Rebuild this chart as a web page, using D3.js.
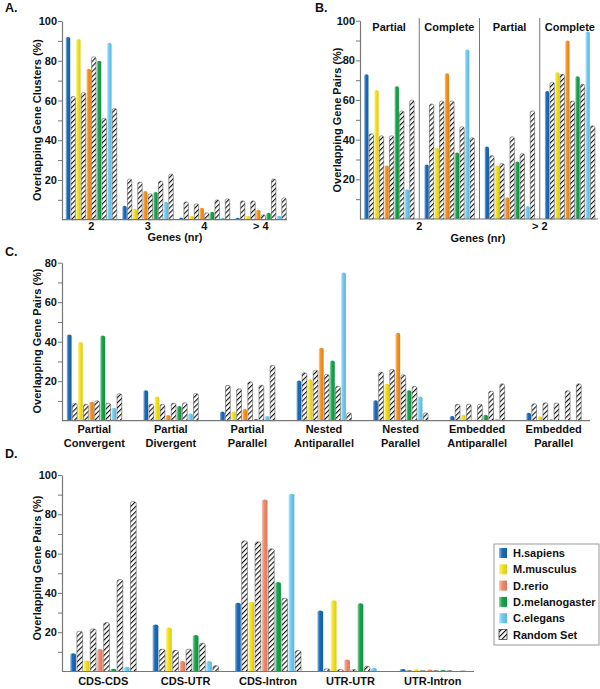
<!DOCTYPE html>
<html><head><meta charset="utf-8">
<script src="https://cdn.jsdelivr.net/npm/d3@7"></script>
<style>
body{margin:0;background:#fff}
text{font-family:"Liberation Sans",Arial,sans-serif;font-weight:bold;fill:#111}
</style>
</head><body><svg id="c" width="600" height="689"></svg>
<script>
// ---------- DATA ----------
const species = ["H.sapiens","M.musculus","D.rerio","D.melanogaster","C.elegans"];
const randomName = "Random Set";
const speciesColors = ["#1a6bb9","#f6e31c","#f7921e","#17a34a","#6ccdf3"];
const dSpeciesColors = ["#1a6bb9","#f6e31c","#f08a6c","#17a34a","#6ccdf3"];

// Panel A
const aCategories = ["2","3","4","> 4"];
const aObserved = [[92,91,76,80,89],[7,5.5,14.5,14,9],[1,2,6,4,1],[1,2,5,3.5,2]];
const aRandom   = [[62,64,82,51,56],[20.5,19,13,19.5,23],[9,8,3.5,10,10.5],[9.5,9.5,2.5,20.5,11]];

// Panel B
const bGeneGroups = ["2","> 2"];
const bCategories = ["Partial","Complete","Partial","Complete"];
const bObserved = [[73,65,27,67,15],[27.5,36,73.5,33.5,85.5],[36.5,27,11,29,6.5],[64.5,74,90,72,94.5]];
const bRandom   = [[43,42,42,54.5,60],[58,59.5,59.5,46.5,41],[32,28,41.5,33,54.5],[69,73,59.5,68,47]];

// Panel C
const cCategories = [["Partial","Convergent"],["Partial","Divergent"],["Partial","Parallel"],["Nested","Antiparallel"],["Nested","Parallel"],["Embedded","Antiparallel"],["Embedded","Parallel"]];
const cObserved = [[43.7,39.8,9.6,43.2,6.6],[15.4,12.2,2.9,7.4,3.7],[4.6,4.6,5.9,0.8,2.4],[20.4,21,37,30.5,75],[10.3,18.7,44.5,15.4,12.3],[2.4,3,0.3,3,0.8],[4,2.2,0.7,0.5,0.2]];
const cRandom   = [[8.8,8.3,10.1,8.9,13.7],[8.4,8.3,8.9,9.1,13.8],[17.9,16.2,19.7,18,28],[24.3,25.6,23.5,17.5,4],[24.6,26,23.3,17.4,4],[8.3,8.4,8.4,15,18.7],[8.6,9.1,9,15.2,18.7]];

// Panel D
const dCategories = ["CDS-CDS","CDS-UTR","CDS-Intron","UTR-UTR","UTR-Intron"];
const dObserved = [[9.3,5.6,11.5,1.4,2.4],[23.9,22.4,5.3,18.6,5.3],[35,35.5,87.5,45.5,90.5],[31,36.3,6.1,34.7,1.9],[1.3,1,1,0.8,0]];
const dRandom   = [[20.5,21.7,24.9,46.8,86.5],[11.4,10.8,11.4,14.4,3],[66.5,66,62.5,37.3,10.7],[1.4,1,1,2.7,0],[0.5,0.5,0.5,0.5,0.3]];

const yTicks100 = [10,20,30,40,50,60,70,80,90,100];
const yTicks80 = [10,20,30,40,50,60,70,80];

// ---------- DRAW ----------
const svg = d3.select("#c");
const defs = svg.append("defs");

function gradId(col){ return "g" + col.replace("#",""); }
const allCols = Array.from(new Set(speciesColors.concat(dSpeciesColors)));
allCols.forEach(col => {
  const g = defs.append("linearGradient").attr("id", gradId(col)).attr("x1",0).attr("x2",1).attr("y1",0).attr("y2",0);
  g.append("stop").attr("offset","0%").attr("stop-color", d3.interpolateRgb(col,"#fff")(0.55));
  g.append("stop").attr("offset","40%").attr("stop-color", col);
  g.append("stop").attr("offset","100%").attr("stop-color", d3.color(col).darker(0.35));
});
const pat = defs.append("pattern").attr("id","hatch").attr("patternUnits","userSpaceOnUse")
  .attr("width",3.6).attr("height",3.6).attr("patternTransform","rotate(45)");
pat.append("rect").attr("width",3.6).attr("height",3.6).attr("fill","#fff");
pat.append("line").attr("x1",0).attr("y1",0).attr("x2",0).attr("y2",3.6).attr("stroke","#111").attr("stroke-width",2.2);

function barPath(x, w, y0, yt){
  const h = y0 - yt;
  const r = Math.min(1.6, h/2);
  return `M${x},${y0}L${x},${yt+r}A${w/2},${r} 0 0 1 ${x+w},${yt+r}L${x+w},${y0}Z`;
}

function drawPanel(cfg){
  const g = svg.append("g");
  const x = d3.scaleBand().domain(d3.range(cfg.obs.length)).range(cfg.xRange);
  const inner = d3.scaleBand().domain(d3.range(10)).range([0, cfg.inner]).paddingInner(0.14);
  const y = d3.scaleLinear().domain([0, cfg.yMax]).range(cfg.yRange);
  const bars = [];
  cfg.obs.forEach((row, ci) => {
    row.forEach((v, si) => {
      bars.push({ci, pos: 2*si, v, fill: `url(#${gradId(cfg.colors[si])})`, hatch:false});
      bars.push({ci, pos: 2*si+1, v: cfg.rnd[ci][si], fill: "url(#hatch)", hatch:true});
    });
  });
  g.selectAll("path.bar").data(bars).enter().append("path")
    .attr("class","bar")
    .attr("d", d => {
      const bx = x(d.ci) + (x.bandwidth() - cfg.inner)/2 + inner(d.pos);
      return barPath(bx, inner.bandwidth(), y(0), y(d.v));
    })
    .attr("fill", d => d.fill)
    .attr("stroke", d => d.hatch ? "#444" : "none")
    .attr("stroke-width", 0.5);

  // y axis
  const ax = d3.axisLeft(y).tickValues(cfg.ticks).tickSize(4).tickSizeOuter(0)
    .tickFormat(d => d % 20 === 0 ? d : "");
  const ag = g.append("g").attr("transform", `translate(${cfg.axisX},0)`).call(ax);
  ag.select(".domain").attr("stroke","#777").attr("stroke-width",1.2);
  ag.selectAll(".tick line").attr("stroke","#777");
  ag.selectAll(".tick text").attr("font-size",11).attr("font-weight","bold")
    .attr("font-family","Liberation Sans, Arial, sans-serif").attr("fill","#111").attr("x",-5);
  // x axis line
  g.append("line").attr("x1",cfg.axisX).attr("x2",cfg.axisEnd).attr("y1",y(0)).attr("y2",y(0))
    .attr("stroke","#777").attr("stroke-width",1.2);
  // y title
  g.append("text").attr("transform",`translate(${cfg.titleX},${cfg.titleY}) rotate(-90)`)
    .attr("text-anchor","middle").attr("dy","0.35em").attr("font-size",11).text(cfg.yTitle);
  return {x, y, g};
}

// Panel A
const pA = drawPanel({obs:aObserved, rnd:aRandom, colors:speciesColors, xRange:[63,289], inner:51,
  yMax:100, yRange:[219.7,21], ticks:yTicks100, axisX:62, axisEnd:287, titleX:37, titleY:120,
  yTitle:"Overlapping Gene Clusters (%)"});
pA.g.selectAll("text.cat").data(aCategories).enter().append("text").attr("class","cat")
  .attr("x",(d,i)=>pA.x(i)+pA.x.bandwidth()/2).attr("y",230).attr("text-anchor","middle")
  .attr("font-size",11).text(d=>d);
pA.g.append("text").attr("x",175).attr("y",241).attr("text-anchor","middle").attr("font-size",11).text("Genes (nr)");

// Panel B
const pB = drawPanel({obs:bObserved, rnd:bRandom, colors:speciesColors, xRange:[359,600], inner:50,
  yMax:100, yRange:[219,20.7], ticks:yTicks100, axisX:360, axisEnd:598, titleX:337, titleY:120,
  yTitle:"Overlapping Gene Pairs (%)"});
[1,2,3].forEach(i => {
  pB.g.append("line").attr("x1",pB.x(i)).attr("x2",pB.x(i)).attr("y1",18).attr("y2",219)
    .attr("stroke","#777").attr("stroke-width",1);
});
pB.g.selectAll("text.sub").data(bCategories).enter().append("text").attr("class","sub")
  .attr("x",(d,i)=>pB.x(i)+pB.x.bandwidth()/2).attr("y",31).attr("text-anchor","middle")
  .attr("font-size",11).text(d=>d);
pB.g.selectAll("text.cat").data(bGeneGroups).enter().append("text").attr("class","cat")
  .attr("x",(d,i)=>pB.x(2*i+1)).attr("y",230).attr("text-anchor","middle")
  .attr("font-size",11).text(d=>d);
pB.g.append("text").attr("x",478).attr("y",242).attr("text-anchor","middle").attr("font-size",11).text("Genes (nr)");

// Panel C
const pC = drawPanel({obs:cObserved, rnd:cRandom, colors:speciesColors, xRange:[56,592], inner:55,
  yMax:80, yRange:[420.7,262.7], ticks:yTicks80, axisX:62, axisEnd:590, titleX:37, titleY:341,
  yTitle:"Overlapping Gene Pairs (%)"});
cCategories.forEach((lines, i) => {
  lines.forEach((t, j) => {
    pC.g.append("text").attr("x", pC.x(i)+pC.x.bandwidth()/2).attr("y", 433 + j*13.5)
      .attr("text-anchor","middle").attr("font-size",11).text(t);
  });
});

// Panel D
const pD = drawPanel({obs:dObserved, rnd:dRandom, colors:dSpeciesColors, xRange:[62,474], inner:66,
  yMax:100, yRange:[671.5,475], ticks:yTicks100, axisX:62, axisEnd:474, titleX:37, titleY:568,
  yTitle:"Overlapping Gene Pairs (%)"});
pD.g.selectAll("text.cat").data(dCategories).enter().append("text").attr("class","cat")
  .attr("x",(d,i)=>pD.x(i)+pD.x.bandwidth()/2).attr("y",685).attr("text-anchor","middle")
  .attr("font-size",11).text(d=>d);

// Panel letters
[["A.",5,12],["B.",315,12],["C.",5,256],["D.",5,458]].forEach(([t,px,py]) => {
  svg.append("text").attr("x",px).attr("y",py).attr("font-size",12.5).text(t);
});

// Legend
const lg = svg.append("g");
lg.append("rect").attr("x",494).attr("y",544).attr("width",105).attr("height",101)
  .attr("fill","#fff").attr("stroke","#999").attr("stroke-width",1);
const legendItems = species.map((s,i)=>({name:s, fill:`url(#${gradId(dSpeciesColors[i])})`, hatch:false}))
  .concat([{name:randomName, fill:"url(#hatch)", hatch:true}]);
legendItems.forEach((d,i) => {
  const cy = 553 + i*16.3;
  lg.append("rect").attr("x",499).attr("y",cy-5).attr("width",8).attr("height",10)
    .attr("fill", d.fill).attr("stroke", d.hatch ? "#333" : "none").attr("stroke-width",0.7);
  lg.append("text").attr("x",513).attr("y",cy+4).attr("font-size",11).text(d.name);
});
</script>
</body></html>
